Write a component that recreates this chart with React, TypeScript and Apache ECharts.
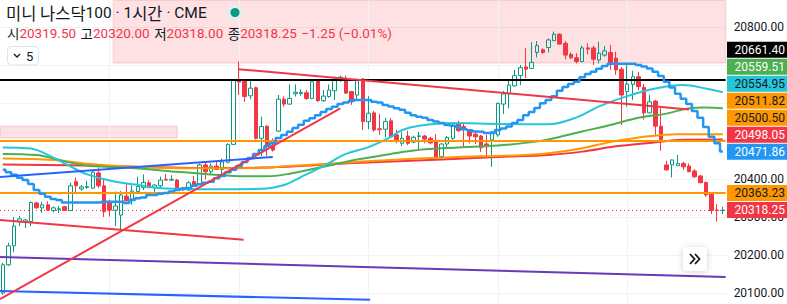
import React, { useEffect, useRef } from "react";
import * as echarts from "echarts";

// ---------- DATA ----------
// hourly bars: [open, close, low, high]
const candles: number[][] = [
  [20100, 20174, 20095, 20179], [20174, 20224, 20171, 20232], [20224, 20276, 20208, 20300], [20287, 20295, 20276, 20303],
  [20287, 20292, 20271, 20295], [20288, 20338, 20276, 20341], [20337, 20324, 20322, 20340], [20324, 20332, 20311, 20340],
  [20332, 20318, 20317, 20341], [20317, 20324, 20312, 20328], [20320, 20321.5, 20310, 20329], [20327, 20317, 20316, 20329],
  [20317, 20382, 20316, 20390], [20393, 20382, 20362, 20404], [20374, 20379, 20369, 20384], [20378, 20380, 20374, 20395],
  [20376, 20418, 20374, 20424], [20416, 20382, 20376, 20430], [20382, 20314, 20300, 20401], [20341, 20318, 20301, 20345],
  [20318, 20329, 20276, 20367], [20305, 20358, 20266, 20368], [20355, 20343, 20340, 20389], [20347, 20368, 20332, 20383],
  [20367, 20380, 20362, 20406], [20377, 20391, 20371, 20412], [20390, 20377, 20376, 20397], [20377, 20384, 20365, 20386],
  [20382, 20397, 20375, 20406], [20399, 20397, 20395, 20413], [20397, 20399, 20396, 20410], [20397, 20376, 20373, 20400],
  [20377, 20371, 20369, 20378], [20371, 20390, 20369, 20395], [20393, 20384, 20381, 20408], [20386, 20437, 20384, 20441],
  [20437, 20419, 20399, 20445], [20419, 20434, 20410, 20441], [20434, 20425, 20424, 20445], [20425, 20445, 20410, 20454],
  [20444, 20491, 20441, 20494], [20491, 20659, 20489, 20661], [20660, 20655, 20621, 20709], [20660, 20617, 20603, 20661],
  [20619, 20639, 20610, 20662], [20640, 20507, 20504, 20643], [20507, 20538, 20460, 20564], [20539, 20485, 20460, 20542],
  [20489, 20476, 20472, 20507], [20526, 20610, 20524, 20621], [20610, 20597, 20590, 20617], [20597, 20612, 20595, 20649],
  [20624, 20628, 20617, 20649], [20625, 20628, 20619, 20636], [20627, 20612, 20608, 20634], [20612, 20656, 20610, 20658],
  [20658, 20606, 20603, 20661], [20606, 20618, 20603, 20634], [20617, 20634, 20614, 20649], [20632, 20659, 20608, 20669],
  [20659, 20668, 20656, 20672], [20665, 20626, 20624, 20672], [20630, 20603, 20595, 20632], [20621, 20659, 20608, 20664],
  [20663, 20551, 20529, 20666], [20551, 20573, 20531, 20618], [20574, 20529, 20524, 20579], [20532, 20530, 20516, 20571],
  [20531, 20551, 20510, 20561], [20553, 20511, 20510, 20560], [20516, 20501, 20494, 20529], [20494, 20507, 20487, 20524],
  [20513, 20494, 20489, 20527], [20497, 20510, 20494, 20514], [20512, 20513.5, 20476, 20524], [20513, 20505, 20494, 20516],
  [20507, 20495, 20491, 20511], [20501, 20457, 20454, 20518], [20459, 20492, 20450, 20494], [20492, 20509, 20481, 20513],
  [20507, 20542, 20503, 20547], [20544, 20527, 20524, 20553], [20538, 20531, 20485, 20548], [20527, 20513, 20494, 20532],
  [20518, 20511, 20492, 20523], [20513, 20482, 20471, 20516], [20492, 20485, 20460, 20516], [20503, 20524, 20432, 20526],
  [20516, 20599, 20511, 20601], [20597, 20624, 20571, 20632], [20624, 20647, 20586, 20660], [20645, 20672, 20643, 20687],
  [20672, 20693, 20647, 20700], [20695, 20689, 20665, 20744], [20691, 20707, 20689, 20760], [20733, 20751, 20720, 20763],
  [20740, 20733, 20729, 20744], [20746, 20766, 20733, 20770], [20764, 20781, 20763, 20788], [20781, 20755, 20754, 20783],
  [20757, 20726, 20715, 20763], [20728, 20719, 20715, 20733], [20719, 20709, 20704, 20731], [20709, 20745, 20707, 20751],
  [20745, 20742, 20728, 20757], [20745, 20715, 20700, 20751], [20713, 20731, 20704, 20761], [20726, 20737, 20722, 20750],
  [20733, 20704, 20687, 20753], [20718, 20687, 20674, 20735], [20689, 20621, 20542, 20695], [20630, 20650, 20590, 20700],
  [20649, 20669, 20608, 20685], [20669, 20643, 20634, 20682], [20641, 20574, 20557, 20650], [20574, 20603, 20573, 20621],
  [20605, 20539, 20516, 20608], [20539, 20504, 20474, 20586], [20437, 20424, 20422, 20448], [20437, 20450, 20404, 20451],
  [20435, 20441, 20434, 20463], [20441, 20432, 20424, 20445], [20434, 20419, 20418, 20441], [20421, 20406, 20402, 20426],
  [20408, 20390, 20389, 20411], [20391, 20358, 20353, 20393], [20360, 20317, 20308, 20362], [20318.5, 20317, 20288, 20334],
  [20317, 20318.25, 20308, 20327],
];

// stepped trailing line (one value per bar)
const stepLine: number[] = [
  20424, 20418, 20411, 20403, 20397, 20387, 20371, 20361, 20353, 20347, 20345,
  20338, 20338, 20338, 20338, 20338, 20338, 20338,
  20340, 20340, 20340, 20340, 20337, 20345, 20349, 20351, 20358, 20358, 20361, 20363,
  20367, 20371, 20374, 20376, 20382, 20386, 20390, 20393, 20402, 20408, 20418, 20424,
  20434, 20445, 20455, 20466, 20476, 20487, 20495, 20508, 20516, 20524, 20534, 20543,
  20553, 20560, 20568, 20576, 20584, 20590, 20597, 20601, 20606, 20608, 20608, 20608,
  20603, 20601, 20595, 20591, 20586, 20582, 20574, 20568, 20564, 20561, 20555, 20551,
  20547, 20542, 20540, 20536, 20531, 20528, 20525, 20524, 20521, 20521, 20529, 20533,
  20538, 20547, 20555, 20568, 20576, 20587, 20599, 20608, 20618, 20632, 20642, 20650,
  20656, 20668, 20676, 20682, 20690, 20697, 20703, 20703, 20703, 20703, 20703, 20700,
  20696, 20691, 20682, 20671, 20656, 20641, 20624, 20611, 20597, 20579, 20561, 20537,
  20511, 20494, 20472,
];

// moving averages, [bar index, value]
const cyanMA: number[][] = [
  [0, 20483], [5, 20480], [9, 20456], [12, 20433], [15, 20412], [19, 20396], [24, 20384], [29, 20375],
  [37, 20373], [46, 20374], [50, 20384], [53, 20405], [57, 20434], [61, 20466], [65, 20484], [69, 20511],
  [71, 20529], [74, 20540], [80, 20547], [88, 20545], [97, 20544], [102, 20562], [106, 20591], [111, 20618],
  [116, 20638], [121, 20647], [125, 20638], [128, 20628],
];
const greenMA: number[][] = [
  [0, 20466], [6, 20463], [9, 20454], [12, 20443], [16, 20434], [22, 20430], [30, 20420], [37, 20412],
  [43, 20407], [47, 20407], [51, 20414], [57, 20432], [63, 20451], [69, 20466], [75, 20478], [81, 20483],
  [88, 20488], [94, 20497], [97, 20504], [103, 20525], [108, 20542], [113, 20561], [118, 20572], [122, 20586],
  [125, 20588], [128, 20586],
];
const orangeMA: number[][] = [
  [0, 20454], [9, 20450], [15, 20440], [22, 20433], [30, 20429], [39, 20428], [46, 20429], [51, 20434],
  [63, 20445], [74, 20454], [85, 20460], [91, 20462], [97, 20468], [103, 20481], [108, 20497], [114, 20511],
  [120, 20518], [128, 20518],
];
const redMA: number[][] = [
  [0, 20438], [12, 20436], [24, 20432], [35, 20429], [46, 20430], [56, 20437], [67, 20445], [78, 20451],
  [88, 20458], [97, 20463], [103, 20472], [109, 20486], [115, 20495], [121, 20503], [128, 20504],
];

// drawn trend lines: [[bar, price], [bar, price]]
const redUpperTrend = [[41.8, 20689], [122, 20583]];
const redRisingTrend = [[-0.5, 20084], [60, 20586]];
const redLowerTrend = [[-0.5, 20292], [42.8, 20240]];
const blueShortTrend = [[-0.5, 20405], [48, 20458]];
const purpleTrend = [[-0.5, 20195], [128.5, 20142]];
const blueBottomTrend = [[-0.5, 20105], [65.3, 20082]];

// horizontal levels
const blackLevel = 20661.4;
const orangeLevels = [20500.5, 20363.23];
const lastPrice = 20318.25;

// zones: [[bar from, price low], [bar to, price high]]
const topZone = [[19.65, 20705], [128.5, 20900]];
const leftZone = [[-0.5, 20508], [31, 20539]];

// vertical day separators (bar index)
const dayBreaks = [19, 42, 65, 88, 111];

// right-axis price tags
const tagValues = [20661.4, 20559.51, 20554.95, 20511.82, 20500.5, 20498.05, 20471.86, 20363.23, 20318.25];

// y axis
const yMin = 20071;
const yMax = 20871;
const shownTicks = [20100, 20200, 20300, 20400, 20800];

// header
const titleParts = ["미니 나스닥", "100 · 1", "시간", " · CME"];
const ohlcLabels = ["시", "고", "저", "종"];
const headerOHLC = [20319.5, 20320.0, 20318.0, 20318.25];
const headerChange = [-1.25, -0.01];
const intervalCount = "5";

// ---------- STYLE ----------
const UP = "#089981";
const DOWN = "#f23645";
const TAG_COLORS = [
  ["#000000", "#ffffff"], ["#4caf50", "#ffffff"], ["#26c6da", "#131722"], ["#ff9800", "#131722"],
  ["#ff9800", "#131722"], ["#f23645", "#ffffff"], ["#2196f3", "#ffffff"], ["#ff9800", "#131722"],
  ["#f23645", "#ffffff"],
];
const FONT = "Roboto, 'Noto Sans CJK KR', sans-serif";
const KFONT = "'Noto Sans CJK KR', Roboto, sans-serif";

function trend(data: number[][], color: string, width = 2) {
  return {
    type: "line", xAxisIndex: 1, data, silent: true, showSymbol: false, z: 6,
    lineStyle: { color, width }, animation: false,
  };
}
function ma(data: number[][], color: string) {
  return {
    type: "line", xAxisIndex: 1, data, smooth: 0.35, silent: true, showSymbol: false, z: 4,
    lineStyle: { color, width: 2 }, animation: false,
  };
}

export default function App() {
  const ref = useRef<HTMLDivElement>(null);
  useEffect(() => {
    if (!ref.current) return;
    const chart = echarts.init(ref.current, null, { renderer: "svg" });
    const categories = candles.map((_, i) => String(i));
    const option: any = {
      animation: false,
      backgroundColor: "#ffffff",
      grid: { left: -1.82, right: 60, top: 0, bottom: 0 },
      xAxis: [
        { type: "category", data: categories, boundaryGap: true, show: false },
        { type: "value", min: -0.5, max: candles.length - 0.5, show: false },
      ],
      yAxis: {
        type: "value", position: "right", min: yMin, max: yMax, splitNumber: 8,
        axisLine: { show: false }, axisTick: { show: false },
        splitLine: { show: true, showMinLine: false, showMaxLine: false, lineStyle: { color: "#f0f3fa", width: 1 } },
        axisLabel: {
          margin: 8, color: "#131722", fontSize: 12, fontFamily: FONT,
          showMinLabel: false, showMaxLabel: false,
          formatter: (v: number) => (shownTicks.includes(Math.round(v)) ? v.toFixed(2) : ""),
        },
      },
      series: [
        {
          type: "line", xAxisIndex: 1, data: purpleTrend, silent: true, showSymbol: false, z: 6,
          lineStyle: { color: "#673ab7", width: 2 },
          markArea: {
            silent: true, z: 1,
            itemStyle: { color: "rgba(242,54,69,0.15)", borderColor: "rgba(242,54,69,0.12)", borderWidth: 2 },
            data: [
              [{ coord: topZone[0] }, { coord: topZone[1] }],
              [{ coord: leftZone[0] }, { coord: leftZone[1] }],
            ],
          },
        },
        {
          type: "line", xAxisIndex: 1, data: blueBottomTrend, silent: true, showSymbol: false, z: 6,
          lineStyle: { color: "#2962ff", width: 2 },
          markLine: {
            silent: true, symbol: "none", z: 1, label: { show: false },
            lineStyle: { color: "#f0f3fa", width: 1, type: "solid" },
            data: dayBreaks.map((b) => ({ xAxis: b })),
          },
        },
        {
          type: "candlestick", xAxisIndex: 0, data: candles, barWidth: 4, z: 3,
          itemStyle: { color: "rgba(255,255,255,0)", color0: DOWN, borderColor: UP, borderColor0: DOWN, borderWidth: 1 },
          markLine: {
            silent: true, symbol: "none", label: { show: false }, z: 5,
            data: [
              { yAxis: blackLevel, lineStyle: { color: "#000000", width: 2, type: "solid" } },
              ...orangeLevels.map((v) => ({ yAxis: v, lineStyle: { color: "#ff9800", width: 2, type: "solid" } })),
              { yAxis: lastPrice, lineStyle: { color: DOWN, width: 1, type: [1, 3] } },
            ],
          },
        },
        ma(redMA, "#f23645"),
        ma(orangeMA, "#ff9800"),
        ma(greenMA, "#4caf50"),
        ma(cyanMA, "#26c6da"),
        {
          type: "line", xAxisIndex: 0, data: stepLine, step: "middle", silent: true, showSymbol: false, z: 5,
          lineStyle: { color: "#2196f3", width: 2.5 },
        },
        trend(redUpperTrend, "#f23645"),
        trend(redRisingTrend, "#f23645"),
        trend(redLowerTrend, "#f23645"),
        trend(blueShortTrend, "#2962ff"),
      ],
    };
    chart.setOption(option);

    // price tags stacked like the platform does
    const STEP = 17;
    const natural = tagValues.map((v) => chart.convertToPixel({ yAxisIndex: 0 }, v) as number);
    const order = natural.map((_, i) => i).sort((a, b) => natural[b] - natural[a]);
    const pos = natural.slice();
    let prev = Infinity;
    for (const i of order) {
      const y = Math.min(natural[i], prev - STEP);
      pos[i] = y;
      prev = y;
    }
    const tagEls: any[] = [];
    tagValues.forEach((v, i) => {
      tagEls.push({
        type: "rect", z: 100, shape: { x: 727, y: pos[i] - 8, width: 60, height: 16 },
        style: { fill: TAG_COLORS[i][0] },
      });
      tagEls.push({
        type: "text", z: 101, x: 734.5, y: pos[i],
        style: { text: v.toFixed(2), fill: TAG_COLORS[i][1], fontSize: 12, fontFamily: FONT, verticalAlign: "middle", align: "left" },
      });
    });

    const fmt = (n: number) => n.toFixed(2);
    const chg = (n: number) => (n < 0 ? "−" : "+") + Math.abs(n).toFixed(2);
    const ohlcText =
      ohlcLabels.map((k, i) => `{k|${k}}{v|${fmt(headerOHLC[i])}}{sp| }`).join("") +
      `{v|${chg(headerChange[0])} (${chg(headerChange[1])}%)}`;
    const titleText = `{h|${titleParts[0]}}{l|${titleParts[1]}}{h|${titleParts[2]}}{l|${titleParts[3]}}`;

    const header: any[] = [
      {
        type: "text", z: 100, x: 6, y: 12.5,
        style: {
          text: titleText, verticalAlign: "middle",
          rich: {
            h: { fill: "#131722", fontSize: 16.5, fontFamily: KFONT, lineHeight: 18 },
            l: { fill: "#131722", fontSize: 15.5, fontFamily: FONT, lineHeight: 18 },
          },
        },
      },
      { type: "circle", z: 100, shape: { cx: 235, cy: 12.5, r: 8.5 }, style: { fill: "#e8ebef" } },
      { type: "circle", z: 101, shape: { cx: 235, cy: 12.5, r: 4.5 }, style: { fill: UP } },
      {
        type: "text", z: 100, x: 7, y: 33,
        style: {
          text: ohlcText, verticalAlign: "middle",
          rich: {
            k: { fill: "#131722", fontSize: 13.5, fontFamily: KFONT, lineHeight: 15 },
            v: { fill: DOWN, fontSize: 13.5, fontFamily: FONT, lineHeight: 15 },
            sp: { fill: "#131722", fontSize: 13.5, width: 4.5, lineHeight: 15 },
          },
        },
      },
      {
        type: "rect", z: 100, shape: { x: 7.5, y: 46.5, width: 31, height: 18.5, r: 4 },
        style: { fill: "#ffffff", stroke: "#e0e3eb", lineWidth: 1 },
      },
      {
        type: "polyline", z: 101, shape: { points: [[14, 54], [17, 57], [20, 54]] },
        style: { stroke: "#131722", lineWidth: 1.3, fill: "none" },
      },
      {
        type: "text", z: 101, x: 26, y: 56,
        style: { text: intervalCount, fill: "#131722", fontSize: 13, fontFamily: FONT, verticalAlign: "middle" },
      },
      {
        type: "rect", z: 100, shape: { x: 683, y: 247, width: 24, height: 24, r: 4 },
        style: { fill: "#ffffff", shadowBlur: 6, shadowColor: "rgba(0,0,0,0.18)", shadowOffsetY: 1 },
      },
      {
        type: "polyline", z: 101, shape: { points: [[690, 254], [694.5, 259], [690, 264]] },
        style: { stroke: "#131722", lineWidth: 1.8, fill: "none" },
      },
      {
        type: "polyline", z: 101, shape: { points: [[695, 254], [699.5, 259], [695, 264]] },
        style: { stroke: "#131722", lineWidth: 1.8, fill: "none" },
      },
    ];

    chart.setOption({ graphic: [...header, ...tagEls] });
    return () => chart.dispose();
  }, []);
  return <div ref={ref} style={{ position: "absolute", left: 0, top: 0, width: 787, height: 304 }} />;
}
